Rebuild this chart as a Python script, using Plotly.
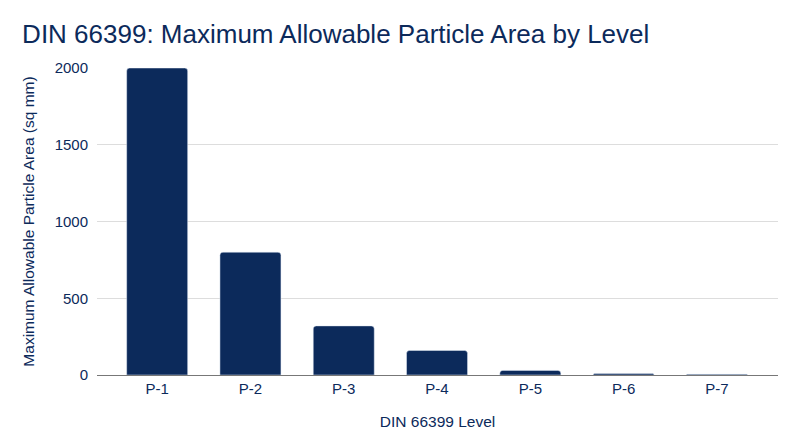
import plotly.graph_objects as go

# === DATA ===
levels = ["P-1", "P-2", "P-3", "P-4", "P-5", "P-6", "P-7"]
max_area = [2000, 800, 320, 160, 30, 10, 5]

NAVY = "#0c2a5b"

fig = go.Figure(go.Bar(
    x=levels,
    y=max_area,
    marker=dict(color=NAVY, cornerradius=3),
))

# page body adds 8px, so figure is sized to sit inside the 800x447 window
fig.update_layout(
    width=784, height=431,
    paper_bgcolor="white", plot_bgcolor="white",
    font=dict(family="Liberation Sans, Arial", color=NAVY, size=15),
    title=dict(text="DIN 66399: Maximum Allowable Particle Area by Level",
               x=0.018, xanchor="left", y=0.94, yanchor="middle",
               font=dict(size=26, color=NAVY)),
    margin=dict(l=89, r=14, t=60, b=64),
    bargap=0.346,
    showlegend=False,
)
fig.update_xaxes(
    title=dict(text="DIN 66399 Level", standoff=20, font=dict(size=15.5)),
    range=[-0.645, 6.655],
    showline=True, linecolor="#777777", linewidth=1,
    tickfont=dict(size=15),
)
fig.update_yaxes(
    title=dict(text="Maximum Allowable Particle Area (sq mm)", standoff=16, font=dict(size=15.5)),
    range=[0, 2000], tickvals=[0, 500, 1000, 1500, 2000],
    showgrid=True, gridcolor="#dddddd", zeroline=False,
    tickfont=dict(size=15), ticklabelstandoff=8,
)

fig.write_html("out.html")
